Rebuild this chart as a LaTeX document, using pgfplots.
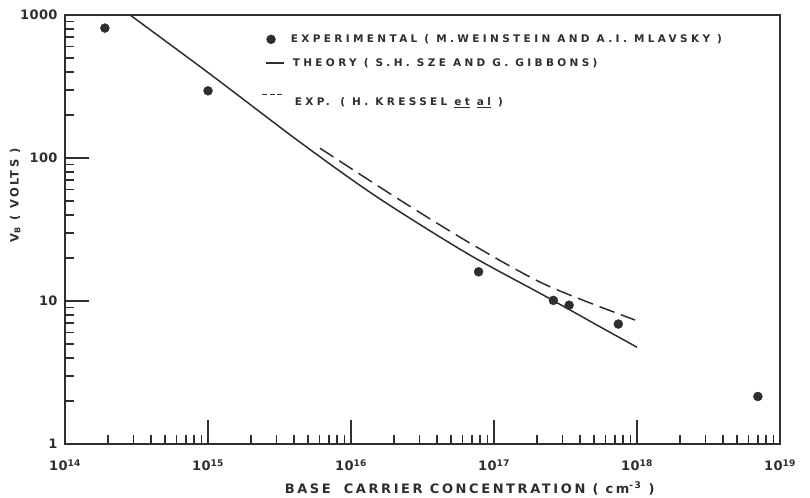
\documentclass[border=0pt]{standalone}
\usepackage{fontspec}
\setmainfont{DejaVu Sans}
\newfontfamily\legfont[LetterSpace=32]{DejaVu Sans}
\newfontfamily\labfont[LetterSpace=20]{DejaVu Sans}
\newfontfamily\tickfont[LetterSpace=3]{DejaVu Sans}
\usepackage{pgfplots}
\pgfplotsset{compat=1.18}
\definecolor{ink}{HTML}{2E2E2E}

% legend images of the three series
\pgfplotsset{
  dotlegend/.style={legend image code/.code={\draw[##1] plot coordinates {(9pt,0pt)};}},
  linelegend/.style={legend image code/.code={\draw[##1] (4pt,0pt) -- (22pt,0pt);}},
  dashlegend/.style={legend image code/.code={\draw[##1, dash pattern=on 5pt off 2.5pt] (0pt,0pt) -- (21pt,0pt);}},
}

\begin{document}
\begin{tikzpicture}
\begin{axis}[
  xmode=log, ymode=log,
  scale only axis, width=715pt, height=429pt,
  xmin=1e14, xmax=1e19, ymin=1, ymax=1000,
  axis line style={ink, line width=2pt},
  tick pos=left, tick align=inside,
  major tick length=24pt, minor tick length=9pt,
  every tick/.append style={ink, line width=1.5pt},
  every minor tick/.append style={ink, line width=1.5pt},
  xtick={1e14,1e15,1e16,1e17,1e18,1e19},
  xticklabels={10\textsuperscript{14},10\textsuperscript{15},10\textsuperscript{16},10\textsuperscript{17},10\textsuperscript{18},10\textsuperscript{19}},
  ytick={1,10,100,1000},
  yticklabels={1,10,100,1000},
  ticklabel style={font=\tickfont\bfseries\fontsize{13}{15}\selectfont, text=ink},
  xticklabel style={yshift=-12pt},
  yticklabel style={xshift=-4pt},
  xlabel={BASE\quad CARRIER CONCENTRATION ( cm\textsuperscript{-\,3} )},
  ylabel={V\textsubscript{B} ( VOLTS )},
  xlabel style={font=\labfont\bfseries\fontsize{13}{15}\selectfont, text=ink, inner sep=0pt,
    at={(axis description cs:0.566,0)}, anchor=north, yshift=-38pt},
  ylabel style={font=\labfont\bfseries\fontsize{11.5}{13}\selectfont, text=ink, at={(axis description cs:0,0.58)}, anchor=south, yshift=41pt},
  legend style={draw=none, fill=none, at={(rel axis cs:0.27,0.964)}, anchor=north west,
    font=\legfont\bfseries\fontsize{10.5}{12}\selectfont, text=ink, row sep=10pt},
  legend cell align=left,
]
% breakdown voltage measurements
\addplot[only marks, mark=*, mark size=4.5pt, color=ink, dotlegend]
  coordinates {(1.9e14,810) (1e15,295) (7.8e16,16) (2.6e17,10.1) (3.35e17,9.35) (7.4e17,6.9) (7e18,2.15)};
\addlegendentry{\hspace{4pt}EXPERIMENTAL ( M.WEINSTEIN AND A.I. MLAVSKY )}
% theoretical abrupt-junction curve
\addplot[ink, line width=1.5pt, smooth, linelegend]
  coordinates {(2.85e14,1000) (1e15,396) (4.4e15,129) (1.51e16,53.6) (6.44e16,21.6) (2.21e17,11.0) (5.5e17,6.61) (1e18,4.75)};
\addlegendentry{\hspace{6pt}THEORY ( S.H. SZE AND G. GIBBONS)}
% measured curve, dashed
\addplot[ink, line width=1.5pt, smooth, dash pattern=on 16pt off 7pt, dashlegend]
  coordinates {(6.07e15,117) (2.2e16,50.8) (7.17e16,24.6) (2.33e17,12.9) (9.7e17,7.36)};
\addlegendentry{\rule{0pt}{24pt}\hspace{8pt}EXP.\quad ( H. KRESSEL \underline{et} \underline{al} )}
\coordinate (sw) at (rel axis cs:0,0);
\coordinate (ne) at (rel axis cs:1,1);
\end{axis}
\pgfresetboundingbox
\path (sw) ++(-65pt,-53pt) coordinate (bb1);
\path (ne) ++(30pt,15pt) coordinate (bb2);
\useasboundingbox (bb1) rectangle (bb2);
\end{tikzpicture}
\end{document}
